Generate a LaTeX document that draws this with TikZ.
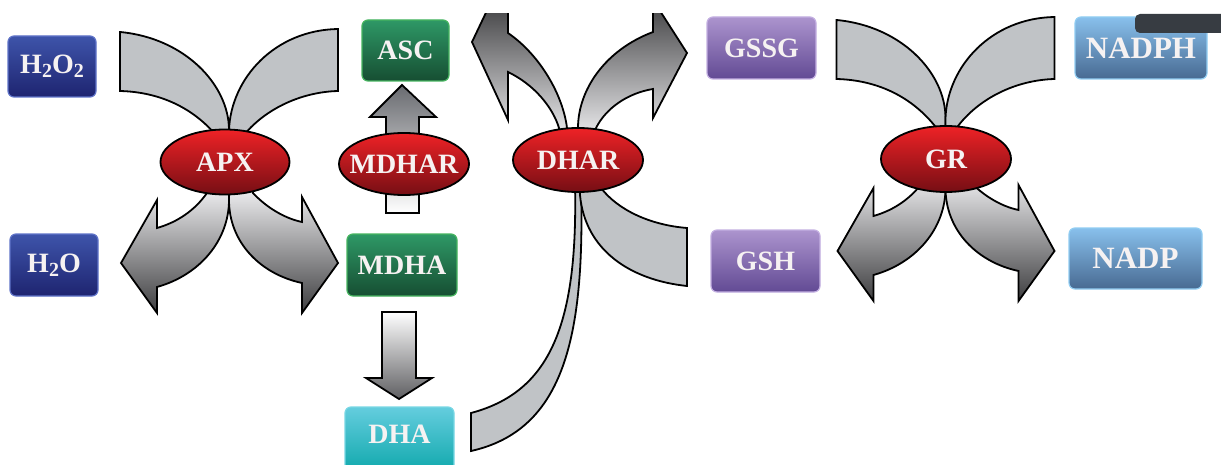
\documentclass[tikz,border=0pt]{standalone}
\usepackage{fontspec}
\setmainfont{Liberation Serif}
\usetikzlibrary{shapes.geometric}
\definecolor{bandgray}{RGB}{192,195,198}
\definecolor{arrlight}{RGB}{242,242,244}
\definecolor{arrdark}{RGB}{62,62,64}
\definecolor{redtop}{RGB}{238,34,38}
\definecolor{redmid}{RGB}{214,28,32}
\definecolor{redbot}{RGB}{118,14,20}
\definecolor{bluetop}{RGB}{62,84,170}
\definecolor{bluebot}{RGB}{30,36,112}
\definecolor{blueedge}{RGB}{95,115,200}
\definecolor{greentop}{RGB}{46,152,102}
\definecolor{greenbot}{RGB}{22,78,50}
\definecolor{greenedge}{RGB}{70,180,95}
\definecolor{cyantop}{RGB}{100,205,222}
\definecolor{cyanbot}{RGB}{16,168,172}
\definecolor{cyanedge}{RGB}{120,215,228}
\definecolor{purptop}{RGB}{172,148,206}
\definecolor{purpbot}{RGB}{98,74,148}
\definecolor{purpedge}{RGB}{195,175,225}
\definecolor{lbtop}{RGB}{136,192,236}
\definecolor{lbbot}{RGB}{72,106,146}
\definecolor{lbedge}{RGB}{145,205,242}
\definecolor{barcol}{RGB}{55,60,66}
\definecolor{txtcol}{RGB}{246,242,242}
\newcommand{\crossshape}{%
  \draw[band] (120,32) .. controls (185,38) and (229,85) .. (229,130) -- (229,150) -- (220,150) -- (220,140)
     .. controls (195,108) and (160,92) .. (120,91) -- cycle;
  \draw[band] (338,29) .. controls (275,30) and (231,78) .. (229,130) -- (229,150) -- (240,150) -- (240,140)
     .. controls (262,110) and (300,92) .. (338,91) -- cycle;
  \draw[downshade] (207,186) -- (207,193) .. controls (195,210) and (178,222) .. (157,228)
     -- (157,200) -- (121,263) -- (157,313) -- (157,287)
     .. controls (200,275) and (229,240) .. (229,200) -- (229,186) -- cycle;
  \draw[downshade] (253,186) -- (253,193) .. controls (265,206) and (283,218) .. (302,222)
     -- (302,197) -- (338,263) -- (302,313) -- (302,283)
     .. controls (260,274) and (229,242) .. (229,200) -- (229,186) -- cycle;
}
\begin{document}
\begin{tikzpicture}[x=0.5pt,y=-0.5pt,
  outl/.style={draw=black, line width=0.9pt},
  band/.style={outl, fill=bandgray},
  downshade/.style={outl, top color=arrlight, bottom color=arrdark},
  upshade/.style={outl, top color=arrdark, bottom color=arrlight},
  whitedown/.style={outl, top color=white, bottom color={rgb,255:red,95;green,95;blue,98}},
  grayup/.style={outl, top color={rgb,255:red,105;green,107;blue,112}, bottom color=white},
  box/.style={rectangle, rounded corners=3pt, inner sep=0pt, line width=0.6pt, text=txtcol,
    font=\fontsize{14}{16}\selectfont\bfseries},
  bluebox/.style={box, top color=bluetop, bottom color=bluebot, draw=blueedge},
  greenbox/.style={box, top color=greentop, bottom color=greenbot, draw=greenedge},
  cyanbox/.style={box, top color=cyantop, bottom color=cyanbot, draw=cyanedge},
  purpbox/.style={box, top color=purptop, bottom color=purpbot, draw=purpedge},
  lbbox/.style={box, top color=lbtop, bottom color=lbbot, draw=lbedge,
    font=\fontsize{15.5}{17}\selectfont\bfseries},
  enz/.style={ellipse, outl, inner sep=0pt, minimum width=65pt, minimum height=32pt,
    top color=redtop, middle color=redmid, bottom color=redbot, text=txtcol,
    font=\fontsize{14}{16}\selectfont\bfseries}
]
\clip (0,0) rectangle (1221,465);
% APX and GR crosses
\crossshape
\begin{scope}[shift={(716.5,-12)}]\crossshape\end{scope}
% MDHAR up arrow
\draw[grayup] (386,213) -- (386,117) -- (370,117) -- (402,85) -- (436,117) -- (419,117) -- (419,213) -- cycle;
% MDHA -> DHA arrow
\draw[whitedown] (382,312) -- (416,312) -- (416,378) -- (432,378) -- (399,399) -- (366,378) -- (382,378) -- cycle;
% DHAR lower bands
\draw[band] (471,413) .. controls (550,392) and (578,325) .. (575,185) -- (581,185)
   .. controls (585,335) and (565,430) .. (471,451) -- cycle;
\draw[band] (687,228) .. controls (650,225) and (618,210) .. (601,188) -- (598,178) -- (579,178) -- (580,195)
   .. controls (585,250) and (630,280) .. (687,286) -- cycle;
% DHAR upper arrows (cut at top)
\begin{scope}
\clip (0,14) rectangle (1221,465);
\draw[upshade] (508,0) -- (508,33) .. controls (540,55) and (563,95) .. (567,128) -- (567,142) -- (558,142) -- (559,128)
   .. controls (553,108) and (535,85) .. (508,72)
   -- (508,120) -- (472,42) -- (492,0) -- cycle;
\draw[upshade] (653,0) -- (653,32) .. controls (605,50) and (578,90) .. (578,128) -- (578,142) -- (594,142) -- (596,128)
   .. controls (606,108) and (628,93) .. (653,89)
   -- (653,118) -- (687,53) -- (653,0) -- cycle;
\end{scope}
% enzymes
\node[enz, minimum width=64.5pt, minimum height=32.5pt] (apx) at (225,162) {\makebox[0pt]{APX}};
\node[enz, minimum height=31pt] (mdhar) at (404,164) {\makebox[0pt]{MDHAR}};
\node[enz] (dhar) at (578,160) {\makebox[0pt]{DHAR}};
\node[enz, minimum height=33pt] (gr) at (946,159) {\makebox[0pt]{GR}};
% metabolites
\node[bluebox, minimum width=44pt, minimum height=30.5pt] (h2o2) at (52,66.5)
  {H\raisebox{-0.28ex}{\fontsize{10}{10}\selectfont 2}O\raisebox{-0.28ex}{\fontsize{10}{10}\selectfont 2}};
\node[bluebox, minimum width=44pt, minimum height=31pt] (h2o) at (54,265)
  {H\raisebox{-0.28ex}{\fontsize{10}{10}\selectfont 2}O};
\node[greenbox, minimum width=43.5pt, minimum height=30.5pt] (asc) at (405.5,50.5) {ASC};
\node[greenbox, minimum width=55pt, minimum height=31pt] (mdha) at (402,265) {MDHA};
\node[cyanbox, minimum width=54.5pt, minimum height=32.5pt, text height=10pt, text depth=6pt] (dha) at (399.5,439.5) {DHA};
\node[purpbox, minimum width=54.5pt, minimum height=31pt] (gssg) at (761.5,48) {GSSG};
\node[purpbox, minimum width=54.5pt, minimum height=31pt] (gsh) at (765.5,261) {GSH};
\node[lbbox, minimum width=66pt, minimum height=31pt] (nadph) at (1141,48) {NADPH};
\node[lbbox, minimum width=66.5pt, minimum height=30.5pt] (nadp) at (1135.5,258.5) {NADP};
% dark bar at top right
\fill[barcol, rounded corners=2.5pt] (1135,14) rectangle (1250,33);
\end{tikzpicture}
\end{document}
